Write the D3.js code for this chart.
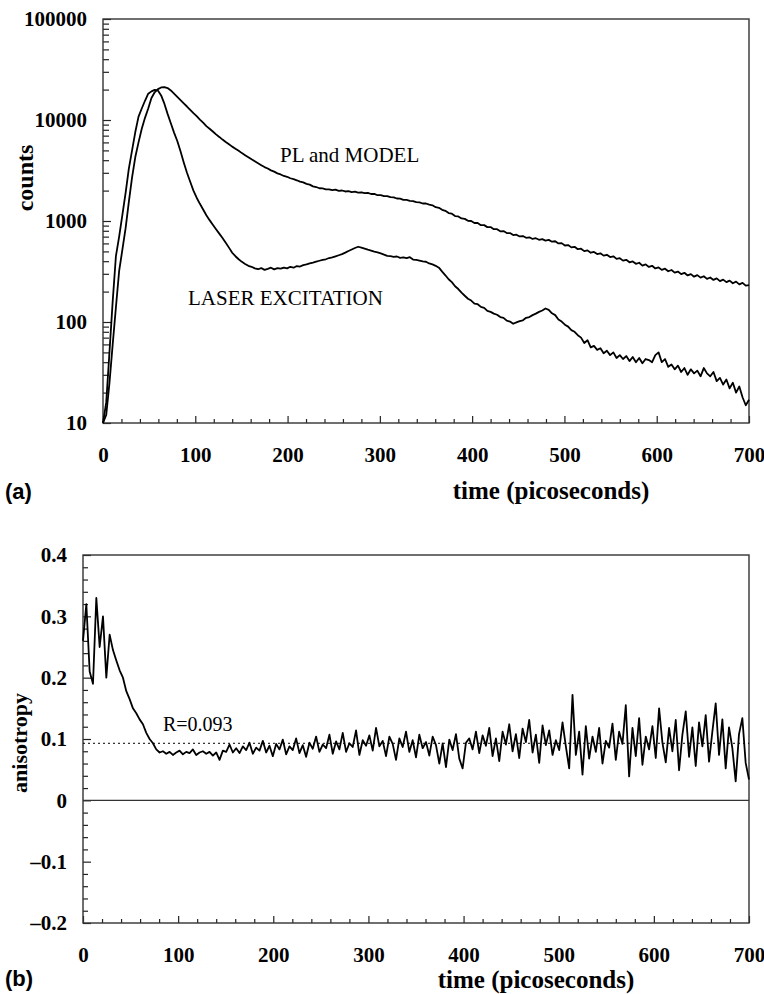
<!DOCTYPE html>
<html>
<head>
<meta charset="utf-8">
<script src="https://cdn.jsdelivr.net/npm/d3@7"></script>
<style>
  body { margin: 0; background: #fff; }
  svg { display: block; }
  .axis text { font-family: "Liberation Serif", "Times New Roman", serif; font-weight: bold; font-size: 21px; fill: #000; }
  .axis line { stroke: #222; stroke-width: 1.2; }
  .axisTitle { font-family: "Liberation Serif", "Times New Roman", serif; font-weight: bold; font-size: 25px; fill: #000; }
  .panelTag { font-family: "Liberation Sans", Arial, sans-serif; font-weight: bold; font-size: 22px; fill: #000; }
  .note { font-family: "Liberation Serif", "Times New Roman", serif; font-size: 21px; fill: #000; }
  .frame { fill: none; stroke: #333; stroke-width: 1.4; }
  .curve { fill: none; stroke: #000; stroke-width: 1.8; stroke-linejoin: round; }
</style>
</head>
<body>
<svg id="chart-svg" width="764" height="994"></svg>
<script>
////////////////////////////////////////////////////////////////////////////////
// Data, one value per 3.5 ps channel starting at t = 0
var channelPs = 3.5;

var plCounts = [
  10, 12, 25, 60, 140, 320, 520, 850, 1550, 2700,
  4300, 6000, 8200, 10500, 13000, 16500, 18800, 20200, 21000, 21200,
  20700, 19600, 18200, 16900, 15700, 14600, 13600, 12600, 11700, 10900,
  10100, 9400, 8700, 8200, 7700, 7200, 6800, 6400, 6050, 5750,
  5450, 5200, 4950, 4700, 4480, 4280, 4080, 3900, 3730, 3570,
  3420, 3310, 3170, 3080, 2960, 2890, 2790, 2740, 2650, 2600,
  2530, 2450, 2410, 2330, 2290, 2200, 2170, 2110, 2100, 2060,
  2060, 2020, 2040, 1990, 2005, 1960, 1975, 1935, 1950, 1910,
  1925, 1885, 1900, 1850, 1855, 1800, 1805, 1760, 1765, 1720,
  1715, 1670, 1665, 1620, 1615, 1580, 1575, 1535, 1530, 1490,
  1490, 1450, 1430, 1370, 1350, 1290, 1260, 1200, 1180, 1120,
  1110, 1060, 1050, 1005, 1000, 955, 955, 910, 910, 870,
  870, 830, 830, 790, 795, 760, 760, 725, 732, 703,
  710, 682, 690, 664, 675, 652, 662, 640, 650, 624,
  630, 600, 604, 572, 578, 548, 555, 526, 532, 503,
  512, 485, 494, 470, 479, 454, 463, 440, 447, 422,
  428, 405, 413, 390, 398, 377, 386, 362, 372, 351,
  360, 339, 347, 328, 337, 318, 327, 308, 316, 298,
  307, 289, 298, 281, 291, 275, 284, 267, 276, 261,
  270, 254, 263, 248, 257, 242, 251, 236, 244, 229,
  232
];

var laserCounts = [
  10, 16, 50, 160, 450, 700, 1150, 1900, 3300, 5000,
  7600, 10800, 13000, 15500, 18200, 19200, 19900, 19600, 17500, 14500,
  11500, 9300, 7500, 6200, 4900, 3800, 3000, 2450, 2000, 1700,
  1480, 1300, 1140, 1020, 920, 830, 750, 680, 610, 545,
  485, 448, 418, 394, 376, 360, 352, 340, 333, 342,
  328, 336, 345, 332, 341, 337, 346, 340, 352, 345,
  358, 354, 366, 372, 380, 387, 396, 404, 412, 418,
  430, 436, 447, 458, 470, 486, 505, 522, 540, 556,
  545, 532, 520, 510, 498, 488, 478, 465, 452, 448,
  442, 445, 432, 436, 428, 438, 415, 412, 405, 398,
  395, 380, 372, 360, 345, 315, 290, 265, 248, 226,
  212, 195, 182, 170, 163, 152, 150, 141, 138, 129,
  126, 121, 118, 112, 110, 103, 101, 96, 99, 102,
  104, 110, 112, 117, 121, 126, 130, 136, 132, 122,
  117, 106, 101, 94, 90, 83, 80, 74, 70, 62,
  66, 56, 58, 53, 55, 49, 52, 47, 50, 44,
  47, 43, 46, 41, 45, 40, 44, 39, 43, 42,
  40, 47, 50, 40, 43, 36, 38, 34, 37, 32,
  35, 30, 34, 31, 33, 29, 35, 31, 29, 32,
  26, 28, 24, 27, 22, 25, 20, 23, 18, 15,
  17
];

var anisotropy = [
  0.26, 0.32, 0.21, 0.19, 0.33, 0.25, 0.30, 0.20, 0.27, 0.245,
  0.228, 0.212, 0.200, 0.178, 0.165, 0.150, 0.142, 0.132, 0.124, 0.110,
  0.100, 0.093, 0.083, 0.078, 0.080, 0.076, 0.079, 0.074, 0.078, 0.081,
  0.075, 0.079, 0.077, 0.083, 0.074, 0.078, 0.080, 0.076, 0.079, 0.073,
  0.078, 0.066, 0.081, 0.079, 0.091, 0.078, 0.085, 0.077, 0.088, 0.082,
  0.094, 0.076, 0.086, 0.081, 0.097, 0.078, 0.089, 0.072, 0.092, 0.083,
  0.099, 0.075, 0.088, 0.082, 0.101, 0.077, 0.090, 0.071, 0.094, 0.084,
  0.104, 0.079, 0.091, 0.085, 0.107, 0.076, 0.096, 0.083, 0.110, 0.079,
  0.093, 0.087, 0.114, 0.074, 0.098, 0.089, 0.106, 0.081, 0.118, 0.088,
  0.097, 0.072, 0.104, 0.092, 0.066, 0.101, 0.087, 0.112, 0.079, 0.098,
  0.070, 0.107, 0.085, 0.095, 0.073, 0.104, 0.090, 0.060, 0.093, 0.054,
  0.099, 0.082, 0.108, 0.068, 0.052, 0.094, 0.101, 0.083, 0.112, 0.077,
  0.106, 0.089, 0.118, 0.072, 0.101, 0.064, 0.112, 0.091, 0.124, 0.080,
  0.108, 0.069, 0.117, 0.095, 0.131, 0.078, 0.107, 0.061, 0.122, 0.090,
  0.114, 0.074, 0.098, 0.082, 0.127, 0.088, 0.052, 0.172, 0.074, 0.112,
  0.042, 0.121, 0.068, 0.104, 0.079, 0.118, 0.060, 0.097, 0.086, 0.125,
  0.066, 0.112, 0.092, 0.155, 0.039, 0.118, 0.072, 0.134, 0.058, 0.104,
  0.083, 0.121, 0.069, 0.150, 0.094, 0.062, 0.118, 0.080, 0.131, 0.049,
  0.107, 0.145, 0.071, 0.119, 0.056, 0.127, 0.088, 0.139, 0.063, 0.112,
  0.158, 0.074, 0.132, 0.052, 0.119, 0.085, 0.031, 0.108, 0.134, 0.061,
  0.034
];

var rValue = 0.093; // limiting anisotropy, dotted line

// tick values
var timeTicks = [0, 100, 200, 300, 400, 500, 600, 700];
var timeMinorTicks = d3.range(20, 700, 20).filter(function(d) { return d % 100 != 0; });
var countTicks = [10, 100, 1000, 10000, 100000];
var anisoTicks = [-0.2, -0.1, 0, 0.1, 0.2, 0.3, 0.4];
var anisoMinorTicks = [-0.18, -0.16, -0.14, -0.12, -0.08, -0.06, -0.04, -0.02,
                       0.02, 0.04, 0.06, 0.08, 0.12, 0.14, 0.16, 0.18,
                       0.22, 0.24, 0.26, 0.28, 0.32, 0.34, 0.36, 0.38];

////////////////////////////////////////////////////////////////////////////////
const svg = d3.select("#chart-svg");

// panel boxes
var boxA = { left: 103, right: 749, top: 19, bottom: 423 };
var boxB = { left: 83, right: 749, top: 555, bottom: 923 };

var xA = d3.scaleLinear().domain([0, 700]).range([boxA.left, boxA.right]);
var yA = d3.scaleLog().domain([10, 100000]).range([boxA.bottom, boxA.top]);
var xB = d3.scaleLinear().domain([0, 700]).range([boxB.left, boxB.right]);
var yB = d3.scaleLinear().domain([-0.2, 0.4]).range([boxB.bottom, boxB.top]);

function tidy(g) {
  g.select(".domain").remove();
  g.attr("font-size", null).attr("font-family", null);
}

// inward ticks on bottom and left sides, labels on the major ones
function drawAxes(box, x, y, yMajor, yMinor, yFormat, yLen) {
  svg.append("g").attr("class", "axis")
     .attr("transform", "translate(0," + box.bottom + ")")
     .call(d3.axisBottom(x).tickValues(timeMinorTicks).tickSize(-4).tickFormat(""))
     .call(tidy);
  svg.append("g").attr("class", "axis")
     .attr("transform", "translate(0," + box.bottom + ")")
     .call(d3.axisBottom(x).tickValues(timeTicks).tickSize(-7).tickPadding(24).tickFormat(d3.format("d")))
     .call(tidy);
  svg.append("g").attr("class", "axis")
     .attr("transform", "translate(" + box.left + ",0)")
     .call(d3.axisLeft(y).tickValues(yMinor).tickSize(-yLen).tickFormat(""))
     .call(tidy);
  svg.append("g").attr("class", "axis")
     .attr("transform", "translate(" + box.left + ",0)")
     .call(d3.axisLeft(y).tickValues(yMajor).tickSize(-8).tickPadding(16).tickFormat(yFormat))
     .call(tidy);
  svg.append("rect").attr("class", "frame")
     .attr("x", box.left).attr("y", box.top)
     .attr("width", box.right - box.left).attr("height", box.bottom - box.top);
}

////////////////////////////////////////////////////////////////////////////////
// (a) photoluminescence and laser, log counts
var countMinor = yA.ticks().filter(function(d) { return countTicks.indexOf(d) < 0; });
drawAxes(boxA, xA, yA, countTicks, countMinor, d3.format("d"), 6);

var lineA = d3.line()
  .x(function(d, i) { return xA(i * channelPs); })
  .y(function(d) { return yA(d); });

svg.append("path").attr("class", "curve").attr("d", lineA(laserCounts));
svg.append("path").attr("class", "curve").attr("d", lineA(plCounts));

svg.append("text").attr("class", "note").attr("x", 280).attr("y", 162).text("PL and MODEL");
svg.append("text").attr("class", "note").attr("x", 188).attr("y", 305).text("LASER EXCITATION");

svg.append("text").attr("class", "axisTitle")
   .attr("transform", "translate(33,178) rotate(-90)")
   .attr("text-anchor", "middle").style("font-size", "24px").text("counts");
svg.append("text").attr("class", "axisTitle")
   .attr("x", 551).attr("y", 499).attr("text-anchor", "middle").text("time (picoseconds)");
svg.append("text").attr("class", "panelTag").attr("x", 5).attr("y", 499).text("(a)");

////////////////////////////////////////////////////////////////////////////////
// (b) anisotropy
drawAxes(boxB, xB, yB, anisoTicks, anisoMinorTicks, function(d) {
  return d < 0 ? "\u2013" + Math.abs(d) : (d == 0 ? "0" : d3.format(".1f")(d));
}, 5);

svg.append("line")
   .attr("x1", xB(0)).attr("x2", xB(700))
   .attr("y1", yB(0)).attr("y2", yB(0))
   .attr("stroke", "#333").attr("stroke-width", 1.3);
svg.append("line")
   .attr("x1", xB(0)).attr("x2", xB(700))
   .attr("y1", yB(rValue)).attr("y2", yB(rValue))
   .attr("stroke", "#000").attr("stroke-width", 1).attr("stroke-dasharray", "2,3");

var lineB = d3.line()
  .x(function(d, i) { return xB(i * channelPs); })
  .y(function(d) { return yB(d); });

svg.append("path").attr("class", "curve").attr("stroke-width", 1.3).attr("d", lineB(anisotropy));

svg.append("text").attr("class", "note").attr("x", 163).attr("y", 731)
   .style("font-size", "20px").text("R=" + d3.format(".3f")(rValue));

svg.append("text").attr("class", "axisTitle")
   .attr("transform", "translate(27,743) rotate(-90)")
   .attr("text-anchor", "middle").style("font-size", "22px").text("anisotropy");
svg.append("text").attr("class", "axisTitle")
   .attr("x", 536).attr("y", 988).attr("text-anchor", "middle").text("time (picoseconds)");
svg.append("text").attr("class", "panelTag").attr("x", 5).attr("y", 986).text("(b)");
</script>
</body>
</html>
